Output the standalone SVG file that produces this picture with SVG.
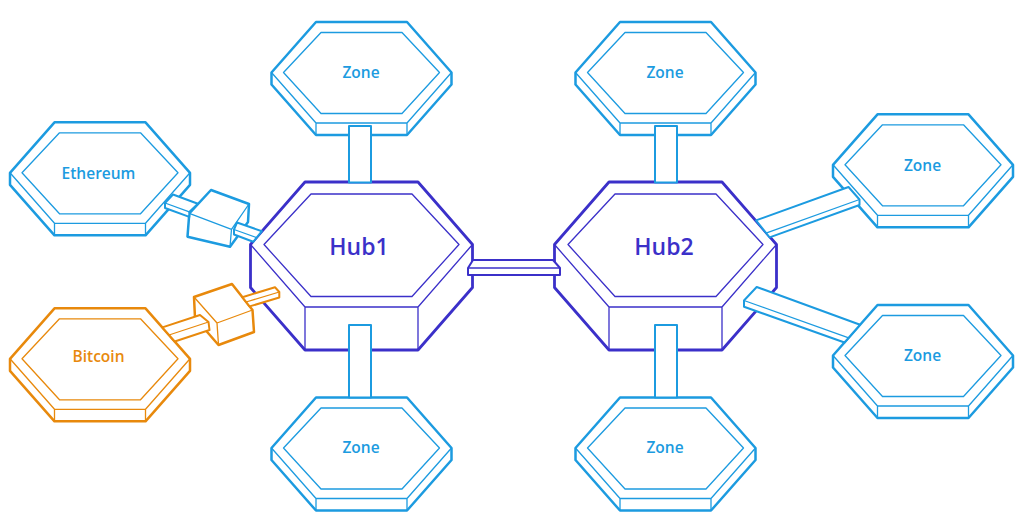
<svg xmlns="http://www.w3.org/2000/svg" xmlns:xlink="http://www.w3.org/1999/xlink" width="1024" height="530" viewBox="0 0 1024 530">
<style>
.blue{color:#1c9be0}
.hub{color:#3b30c9}
.orange{color:#e8890c}
.outer{fill:#fff;stroke:currentColor;stroke-width:2.5;stroke-linejoin:round}
.thin{fill:none;stroke:currentColor;stroke-width:1.3;stroke-linejoin:round}
.conn{fill:#fff;stroke:currentColor;stroke-width:2;stroke-linejoin:round}
.lbl{font-family:"Open Sans","Liberation Sans",sans-serif;font-weight:600;text-anchor:middle;fill:currentColor}
.zt{font-size:15.5px}
.ht{font-size:23px}
</style>
<defs>
<g id="zoneShape">
<path class="outer" d="M-45.5,-50.5 H45.5 L90,0 V12 L45.5,62.5 H-45.5 L-90,12 V0 Z"/>
<path class="thin" d="M-90,0 L-45.5,50.5 H45.5 L90,0 M-45.5,50.5 V62.5 M45.5,50.5 V62.5"/>
<path class="thin" d="M-40.5,-40 H40.5 L78,0 L40.5,41 H-40.5 L-78,0 Z"/>
</g>
<g id="hubShape">
<path class="outer" style="stroke-width:2.8" d="M-56.5,-62.5 H56.5 L111,0 V43 L56.5,105.5 H-56.5 L-111,43 V0 Z"/>
<path class="thin" d="M-111,0 L-56.5,62.5 H56.5 L111,0 M-56.5,62.5 V105.5 M56.5,62.5 V105.5"/>
<path class="thin" d="M-50.5,-50.5 H50.5 L97.5,0 L50.5,52 H-50.5 L-97.5,0 Z"/>
</g>
</defs>
<rect width="1024" height="530" fill="#fff"/>
<g id="nodes">
<g id="zone-top-left" class="blue"><use xlink:href="#zoneShape" transform="translate(361.5,72.5)"/><text class="lbl zt" x="361" y="78">Zone</text></g>
<g id="zone-top-right" class="blue"><use xlink:href="#zoneShape" transform="translate(665.5,72.5)"/><text class="lbl zt" x="665" y="78">Zone</text></g>
<g id="zone-bottom-left" class="blue"><use xlink:href="#zoneShape" transform="translate(361.5,448)"/><text class="lbl zt" x="361" y="453">Zone</text></g>
<g id="zone-bottom-right" class="blue"><use xlink:href="#zoneShape" transform="translate(665.5,448)"/><text class="lbl zt" x="665" y="453">Zone</text></g>
<g id="zone-right-upper" class="blue"><use xlink:href="#zoneShape" transform="translate(923,164.8)"/><text class="lbl zt" x="922.5" y="171">Zone</text></g>
<g id="zone-right-lower" class="blue"><use xlink:href="#zoneShape" transform="translate(923,355.5)"/><text class="lbl zt" x="922.5" y="361">Zone</text></g>
<g id="ethereum" class="blue"><use xlink:href="#zoneShape" transform="translate(100,172.8)"/><text class="lbl zt" x="98.5" y="179">Ethereum</text></g>
<g id="bitcoin" class="orange"><use xlink:href="#zoneShape" transform="translate(100,358.8)"/><text class="lbl zt" x="98.5" y="361.5">Bitcoin</text></g>
<g id="hub1" class="hub"><use xlink:href="#hubShape" transform="translate(361.5,244.5)"/><text class="lbl ht" x="359" y="255">Hub1</text></g>
<g id="hub2" class="hub"><use xlink:href="#hubShape" transform="translate(665.5,244.5)"/><text class="lbl ht" x="664" y="255">Hub2</text></g>
<g id="eth-peg" class="blue">
<path class="outer" d="M211,190 L249,204 L248,222 L230,246.7 L187.5,236.7 L189.3,213.3 Z"/>
<path class="thin" d="M189.3,213.3 L231.5,229.3 L249,204 M231.5,229.3 L230,246.7"/>
</g>
<g id="btc-peg" class="orange">
<path class="outer" d="M194,297 L232,284 L252.5,310 L254,332 L218.5,345 L195,318 Z"/>
<path class="thin" d="M194,297 L217,323 L252.5,310 M217,323 L218.5,345"/>
</g>
</g>
<g id="connectors">
<g class="blue">
<rect class="conn" x="349" y="126" width="22" height="56.5"/>
<rect class="conn" x="349" y="325" width="22" height="72.5"/>
<rect class="conn" x="655" y="126" width="22" height="56.5"/>
<rect class="conn" x="655" y="325" width="22" height="72.5"/>
<path class="conn" d="M173,194.5 L197.9,203.7 L189.3,211.9 L189.3,216.9 L165,208 L165,203 Z"/>
<path class="thin" d="M165,203 L189.3,211.9"/>
<path class="conn" d="M237,222.5 L261.9,231.2 L253.2,241.8 L234,234.5 L234,229.5 Z"/>
<path class="thin" d="M234,229.5 L256.5,237.6"/>
<path class="conn" d="M756,220.4 L848.5,187 L859.5,199.5 L859.5,205 L769.6,237.4 Z"/>
<path class="thin" d="M766,233.2 L859.5,199.5"/>
<path class="conn" d="M756.7,287 L860.1,324.7 L844.5,342.5 L744,306.7 L744,300.5 Z"/>
<path class="thin" d="M744,300.5 L848.7,337.8"/>
</g>
<g class="orange">
<path class="conn" d="M162.4,327.4 L200,315 L208.5,322 L209.5,330 L174.7,341.5 Z"/>
<path class="thin" d="M169,335 L208.5,322"/>
<path class="conn" d="M242.3,297.2 L275,287.3 L279.3,292 L279.3,297.5 L249.6,306.4 Z"/>
<path class="thin" d="M246.1,302 L279.3,292"/>
</g>
<g class="hub">
<path class="conn" d="M473,260 L553,260 L560,268 L560,275 L468,275 L468,268 Z"/>
<path class="thin" d="M468,268 L560,268"/>
</g>
</g>
</svg>
